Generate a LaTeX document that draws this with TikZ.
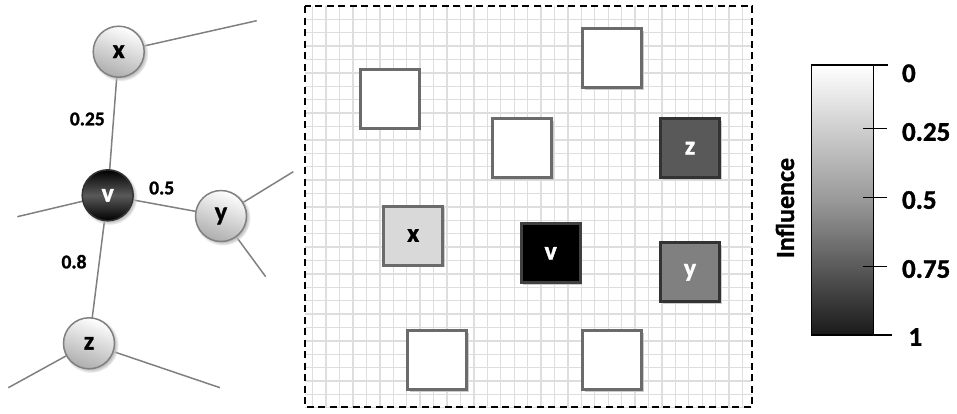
\documentclass[tikz,border=0pt]{standalone}
\usepackage{fontspec}
\setmainfont{Carlito}[BoldFont={Carlito Bold}, BoldFeatures={FakeBold=1.3}]
\usetikzlibrary{shadows}
\definecolor{edgegray}{HTML}{808080}
\definecolor{boxborder}{HTML}{6B6B6B}
\definecolor{gridgray}{HTML}{DEDEDE}
\tikzset{
  ball/.style={circle, minimum size=51pt, inner sep=0pt, draw=edgegray, line width=1.5pt,
    top color=white, bottom color=black!32, shading angle=-20,
    circular drop shadow={shadow xshift=1.5pt, shadow yshift=-1.5pt, fill=black!25},
    font=\bfseries\fontsize{26}{26}\selectfont},
  darkball/.style={ball, draw=black!80, top color=black, bottom color=black, middle color=black!65,
    text=white, shading angle=0},
  edge/.style={draw=edgegray, line width=1.5pt},
  elabel/.style={font=\bfseries\fontsize{19.5}{19.5}\selectfont},
  cell/.style={rectangle, minimum size=59pt, inner sep=0pt, draw=boxborder, line width=3pt,
    fill=white, drop shadow={shadow xshift=2pt, shadow yshift=-2pt, fill=black!20, opacity=1},
    font=\bfseries\fontsize{26}{26}\selectfont},
  ticklabel/.style={anchor=west, font=\bfseries\fontsize{27}{27}\selectfont},
}
\begin{document}
\begin{tikzpicture}[x=1pt, y=-1pt]
\useasboundingbox (0,0) rectangle (957,413);
% ---------- left graph ----------
\coordinate (xe) at (256.7,20.7);
\coordinate (ve) at (17.3,216.7);
\coordinate (ye1) at (293.3,171.7);
\coordinate (ye2) at (265.7,276.7);
\coordinate (ze1) at (8.3,387.7);
\coordinate (ze2) at (220,387.7);
\path (118.7,51.7) coordinate (xc) (107.7,195.3) coordinate (vc)
      (221,216) coordinate (yc) (89,343.3) coordinate (zc);
\draw[edge] (xc) -- (xe);
\draw[edge] (vc) -- (ve);
\draw[edge] (yc) -- (ye1);
\draw[edge] (yc) -- (ye2);
\draw[edge] (zc) -- (ze1);
\draw[edge] (zc) -- (ze2);
\draw[edge] (xc) -- (vc);
\draw[edge] (vc) -- (yc);
\draw[edge] (vc) -- (zc);
\node[ball] (x) at (xc) {x};
\node[ball] (y) at (yc) {y};
\node[ball] (z) at (zc) {z};
\node[darkball] (v) at (vc) {v};
\node[elabel] (l1) at (87.3,119) {0.25};
\node[elabel] (l2) at (161.7,188) {0.5};
\node[elabel] (l3) at (74,261.7) {0.8};
% ---------- grid panel ----------
\begin{scope}
\clip (305,6) rectangle (752,407);
\foreach \i in {0,...,33} {\draw[gridgray, line width=1.3pt] (312.7+13.43*\i,6) -- (312.7+13.43*\i,407);}
\foreach \j in {0,...,29} {\draw[gridgray, line width=1.3pt] (305,19.3+13.4*\j) -- (752,19.3+13.4*\j);}
\end{scope}
\draw[black, line width=1.3pt, dash pattern=on 7pt off 4.5pt] (305,6) rectangle (752,407);
\node[cell] (s1) at (389.7,98.8) {};
\node[cell] (s2) at (612.2,58.2) {};
\node[cell] (s3) at (522,148.2) {};
\node[cell, fill=black!65, draw=black!80, text=white] (sz) at (690,148.2) {z};
\node[cell, fill=black!15] (sx) at (413.2,235.5) {x};
\node[cell, fill=black, draw=black!75, text=white] (sv) at (550.7,253.4) {v};
\node[cell, fill=black!50, draw=black!80, text=white] (sy) at (690,272.3) {y};
\node[cell] (s8) at (437,360.4) {};
\node[cell] (s9) at (612.2,360.4) {};
% ---------- colour bar ----------
\shade[top color=white, bottom color=black!90, middle color=black!40] (811.7,65) rectangle (873.3,335);
\draw[black, line width=1.5pt] (811.7,65) rectangle (873.3,335);
\coordinate (t0) at (888.3,65);
\coordinate (t1) at (886.7,128.3);
\coordinate (t2) at (886.7,197.3);
\coordinate (t3) at (886.7,266.7);
\coordinate (t4) at (891.7,335);
\draw[black, line width=1.5pt] (873.3,65) -- (t0);
\draw[black, line width=1.5pt] (863.3,128.3) -- (t1);
\draw[black, line width=1.5pt] (863.3,197.3) -- (t2);
\draw[black, line width=1.5pt] (863.3,266.7) -- (t3);
\draw[black, line width=1.5pt] (873.3,335) -- (t4);
\node[ticklabel] (n0) at (898.5,73.3) {0};
\node[ticklabel] (n1) at (898.5,132) {0.25};
\node[ticklabel] (n2) at (898.5,200) {0.5};
\node[ticklabel] (n3) at (898.5,269) {0.75};
\node[ticklabel] (n4) at (905,337) {1};
\node[rotate=90, font=\bfseries\fontsize{26}{26}\selectfont] (infl) at (785,208) {Influence};
\end{tikzpicture}
\end{document}
